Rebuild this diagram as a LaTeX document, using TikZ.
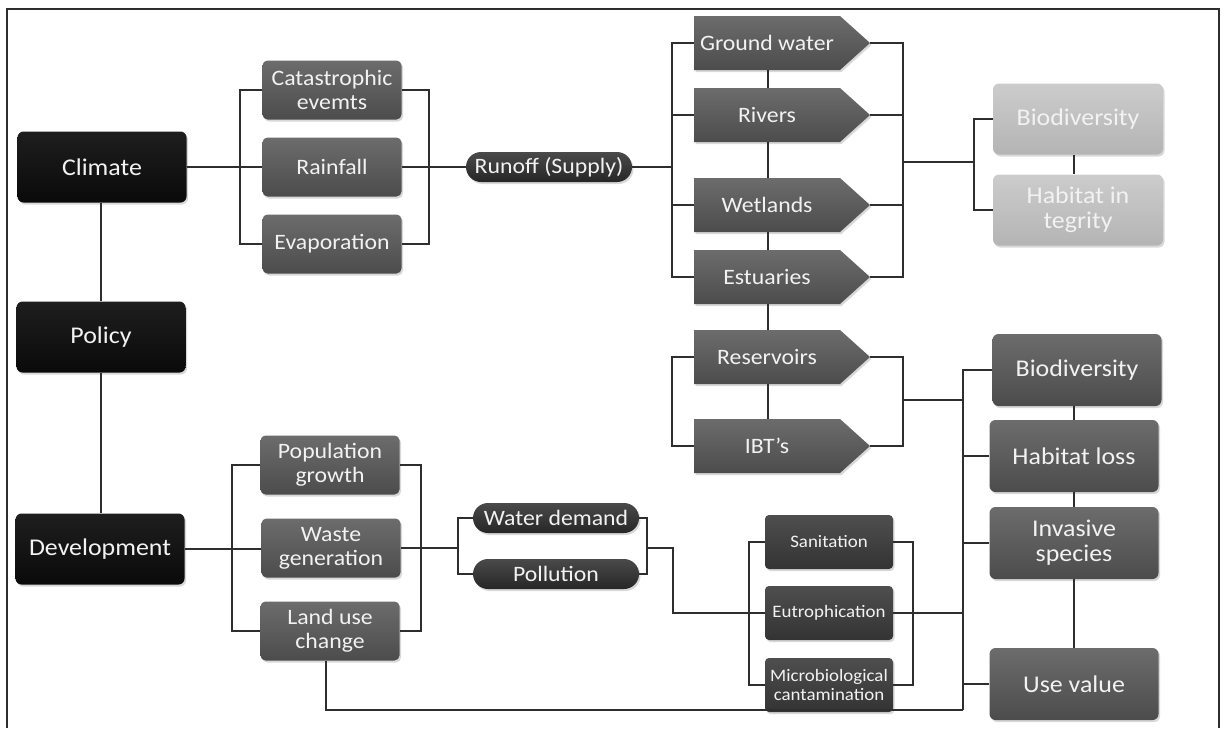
\documentclass[tikz,border=0pt]{standalone}
\usepackage{fontspec}
\setmainfont{Carlito}[FakeStretch=1.08]
\usetikzlibrary{shapes.symbols,shapes.misc,shadows,calc}
\definecolor{lc}{HTML}{2E2E2E}
\definecolor{gtop}{HTML}{6C6C6C}
\definecolor{gbot}{HTML}{4C4C4C}
\definecolor{ktop}{HTML}{1E1E1E}
\definecolor{kbot}{HTML}{0A0A0A}
\definecolor{ltop}{HTML}{CCCCCC}
\definecolor{lbot}{HTML}{B4B4B4}
\definecolor{ptop}{HTML}{4A4A4A}
\definecolor{pbot}{HTML}{262626}
\definecolor{stop}{HTML}{4E4E4E}
\definecolor{sbot}{HTML}{333333}
\definecolor{txt}{HTML}{F2F2F2}
\begin{document}
\begin{tikzpicture}[x=1pt,y=-1pt,
  every node/.style={align=center, text=txt, inner sep=2pt},
  shd/.style={drop shadow={opacity=0.3,shadow xshift=1.5pt,shadow yshift=-2pt}},
  conn/.style={draw=lc, line width=1.3pt},
  fbig/.style={font=\fontsize{24}{25}\selectfont},
  fmid/.style={font=\fontsize{22}{24}\selectfont},
  fsml/.style={font=\fontsize{17.5}{18.5}\selectfont},
  blk/.style={shd, fbig, rounded corners=6pt, top color=ktop, bottom color=kbot, minimum width=169pt, minimum height=71pt},
  gbox/.style={shd, fmid, rounded corners=5pt, top color=gtop, bottom color=gbot, minimum width=139pt, minimum height=59pt},
  rbox/.style={shd, fbig, rounded corners=6pt, top color=gtop, bottom color=gbot, minimum width=169pt, minimum height=72pt},
  lbox/.style={shd, fbig, rounded corners=6pt, top color=ltop, bottom color=lbot, minimum width=170pt, minimum height=71pt},
  pent/.style={shd, fmid, shape=signal, signal to=east, signal pointer angle=84, top color=gtop, bottom color=gbot, minimum width=176pt, minimum height=54pt},
  pill/.style={shd, fmid, shape=rounded rectangle, top color=ptop, bottom color=pbot, minimum width=168pt, minimum height=30pt, inner sep=1pt},
  sbox/.style={shd, fsml, rounded corners=4pt, top color=stop, bottom color=sbot, minimum width=128pt, minimum height=54pt, inner sep=1pt}
]
\useasboundingbox (0,0) rectangle (1222,728);
\fill[white] (0,0) rectangle (1222,728);
\draw[lc, line width=1.2pt] (7,728) -- (7,9) -- (1219,9) -- (1219,728);

% nodes
\node[blk] (climate) at (102,167) {Climate};
\node[blk] (policy) at (101,337) {Policy};
\node[blk] (dev) at (100,549) {Development};

\node[gbox] (cat) at (332,90) {Catastrophic\\evemts};
\node[gbox] (rain) at (332,167) {Rainfall};
\node[gbox] (evap) at (332,244) {Evaporation};

\node[pill] (runoff) at (549,167) {Runoff (Supply)};

\node[pent] (gw) at (767,43) {Ground water};
\node[pent] (riv) at (767,115) {Rivers};
\node[pent] (wet) at (767,205) {Wetlands};
\node[pent] (est) at (767,277) {Estuaries};
\node[pent] (res) at (767,357) {Reservoirs};
\node[pent] (ibt) at (767,446) {IBT's};

\node[lbox] (lbio) at (1078,119) {Biodiversity};
\node[lbox] (lhab) at (1078,210) {Habitat in\\tegrity};

\node[rbox] (bio) at (1077,370) {Biodiversity};
\node[rbox] (hl) at (1074,456) {Habitat loss};
\node[rbox] (inv) at (1074,543) {Invasive\\species};
\node[rbox] (use) at (1074,684) {Use value};

\node[gbox] (pop) at (330,465) {Population\\growth};
\node[gbox] (waste) at (331,548) {Waste\\generation};
\node[gbox] (land) at (330,631) {Land use\\change};

\node[pill] (wd) at (556,518) {Water demand};
\node[pill] (pol) at (556,574) {Pollution};

\node[sbox] (san) at (829,542) {Sanitation};
\node[sbox] (eut) at (829,613) {Eutrophication};
\node[sbox] (mic) at (829,685) {Microbiological\\cantamination};

% bracket coordinates
\coordinate (b1l) at (240,167);
\coordinate (b1r) at (429,167);
\coordinate (b2l) at (672,167);
\coordinate (b2r) at (903,162);
\coordinate (b3) at (974,162);
\coordinate (b4l) at (672,400);
\coordinate (b4r) at (903,400);
\coordinate (bot) at (963,710);
\coordinate (b5l) at (232,548);
\coordinate (b5r) at (421,548);
\coordinate (b6l) at (458,548);
\coordinate (b6r) at (647,548);
\coordinate (j2) at (673,613);
\coordinate (b7l) at (749,613);
\coordinate (b7r) at (913,613);

% connectors
\begin{scope}[conn]
\draw (policy.north) -- (policy.north |- climate.south);
\draw (policy.south) -- (policy.south |- dev.north);
\draw (climate.east) -- (climate.east -| rain.west);
\draw (cat.west) -| (b1l) |- (evap.west);
\draw (cat.east) -| (b1r) |- (evap.east);
\draw (rain.east) -- (runoff.west);
\draw (runoff.east) -- (b2l);
\draw (gw.west) -| (b2l) |- (est.west);
\draw (riv.west) -- (riv.west -| b2l);
\draw (wet.west) -- (wet.west -| b2l);
\draw (gw.east) -| (b2r) |- (est.east);
\draw (riv.east) -- (riv.east -| b2r);
\draw (wet.east) -- (wet.east -| b2r);
\draw (b2r) -- (b3);
\draw (lbio.west) -| (b3) |- (lhab.west);
\draw ([xshift=-4pt]lbio.south) -- ([xshift=-4pt]lhab.north);
\draw ([xshift=1pt]gw.south) -- ([xshift=1pt]riv.north);
\draw ([xshift=1pt]riv.south) -- ([xshift=1pt]wet.north);
\draw ([xshift=1pt]wet.south) -- ([xshift=1pt]est.north);
\draw ([xshift=1pt]est.south) -- ([xshift=1pt]res.north);
\draw ([xshift=1pt]res.south) -- ([xshift=1pt]ibt.north);
\draw (res.west) -| (b4l) |- (ibt.west);
\draw (res.east) -| (b4r) |- (ibt.east);
\draw (b4r) -- (b4r -| bot);
\draw (bio.west) -| (bot);
\draw (hl.west) -- (hl.west -| bot);
\draw (inv.west) -- (inv.west -| bot);
\draw (use.west) -- (use.west -| bot);
\draw (hl.north) -- (hl.north |- bio.south);
\draw (inv.north) -- (inv.north |- hl.south);
\draw (use.north) -- (use.north |- inv.south);
\draw (dev.east) -- (dev.east -| waste.west);
\draw (pop.west) -| (b5l) |- (land.west);
\draw (pop.east) -| (b5r) |- (land.east);
\draw (waste.east) -- (b6l);
\draw (wd.west) -| (b6l) |- (pol.west);
\draw (wd.east) -| (b6r) |- (pol.east);
\draw (b6r) -| (j2) -- (eut.west);
\draw (san.west) -| (b7l) |- (mic.west);
\draw (san.east) -| (b7r) |- (mic.east);
\draw (eut.east) -- (eut.east -| bot);
\draw ([xshift=-4pt]land.south) |- (bot);
\end{scope}
\end{tikzpicture}
\end{document}
